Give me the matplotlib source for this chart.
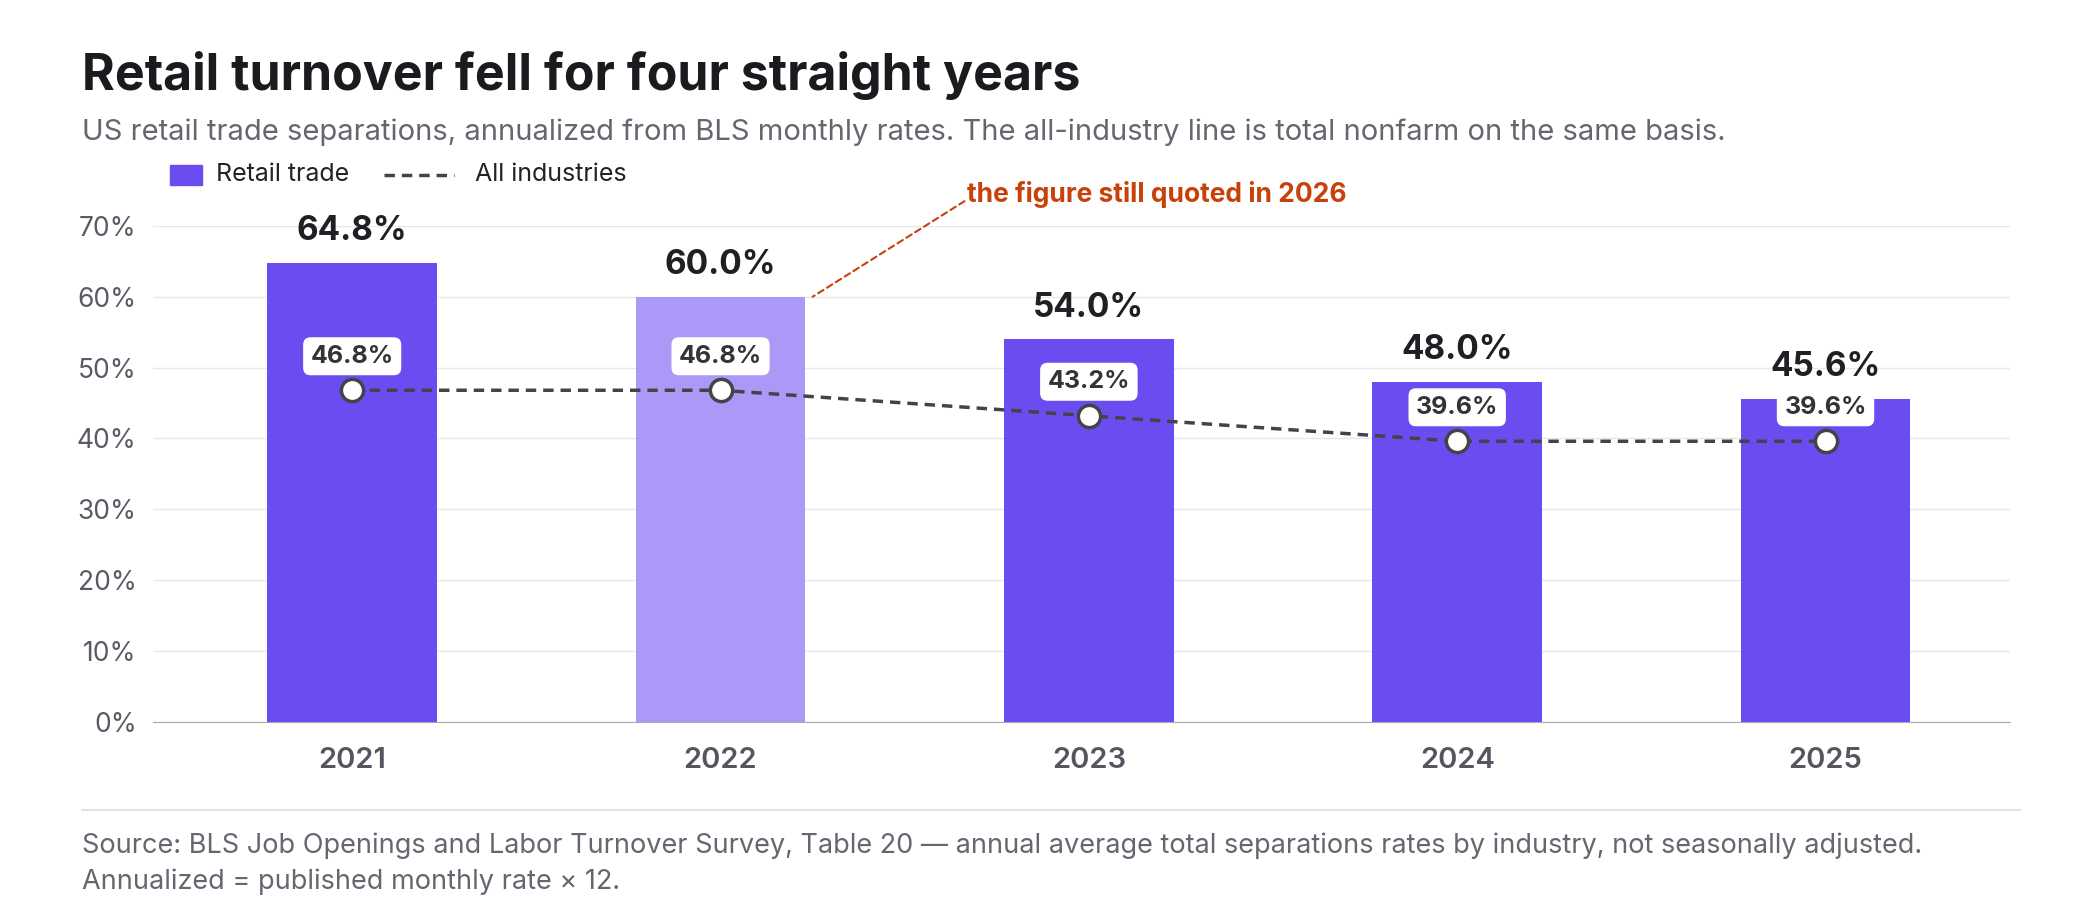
import matplotlib.pyplot as plt

years = ["2021", "2022", "2023", "2024", "2025"]
retail = [64.8, 60.0, 54.0, 48.0, 45.6]
all_ind = [46.8, 46.8, 43.2, 39.6, 39.6]
highlight_year = "2022"

plt.rcParams["font.family"] = ["Inter", "DejaVu Sans"]

fig = plt.figure(figsize=(21, 9), dpi=100)
ax = fig.add_axes([0.073, 0.198, 0.884, 0.551])

x = list(range(len(years)))
colors = ["#ac98f6" if y == highlight_year else "#6b4cf0" for y in years]
ax.bar(x, retail, width=0.46, color=colors, zorder=2)
ax.plot(x, all_ind, color="#444448", lw=2.5, ls=(0, (3, 2)), zorder=3,
        marker="o", ms=16, mfc="white", mec="#444448", mew=2.5)

for xi, r, a in zip(x, retail, all_ind):
    ax.text(xi, r + 2.2, f"{r:.1f}%", ha="center", va="bottom",
            fontsize=24, fontweight="bold", color="#1f1f24")
    ax.text(xi, a + 4.8, f"{a:.1f}%", ha="center", va="center",
            fontsize=18, fontweight="bold", color="#333338", zorder=4,
            bbox=dict(boxstyle="round,pad=0.3", fc="white", ec="none"))

ax.set_xlim(-0.54, 4.5)
ax.set_ylim(0, 70)
ax.set_yticks(range(0, 71, 10))
ax.set_yticklabels([f"{v}%" for v in range(0, 71, 10)])
ax.set_xticks(x)
ax.set_xticklabels(years, fontweight="semibold")
ax.tick_params(axis="y", length=0, labelsize=19, labelcolor="#5a5a66", pad=12)
ax.tick_params(axis="x", length=0, labelsize=21, labelcolor="#555560", pad=18)
ax.grid(axis="y", color="#e8e8ec", lw=1, zorder=0)
for s in ["top", "right", "left"]:
    ax.spines[s].set_visible(False)
ax.spines["bottom"].set_color("#aaaab0")

# annotation on the highlighted bar
hi = years.index(highlight_year)
ax.annotate("the figure still quoted in 2026", xy=(hi + 0.25, retail[hi]),
            xytext=(hi + 0.67, 74.5), fontsize=19, fontweight="bold",
            color="#c8400a", ha="left", va="center", annotation_clip=False,
            arrowprops=dict(arrowstyle="-", color="#c8400a", lw=1.5, ls=(0, (3, 2)),
                            shrinkA=0, shrinkB=0, relpos=(0, 0.3)))

fig.text(0.039, 0.9, "Retail turnover fell for four straight years",
         fontsize=36, fontweight="bold", color="#1a1a1f")
fig.text(0.039, 0.845, "US retail trade separations, annualized from BLS monthly rates. "
         "The all-industry line is total nonfarm on the same basis.",
         fontsize=21, color="#666670")

# legend
fig.patches.append(plt.Rectangle((0.081, 0.795), 0.015, 0.022, color="#6b4cf0",
                                 transform=fig.transFigure))
fig.text(0.103, 0.806, "Retail trade", fontsize=18, color="#222228", va="center")
fig.lines.append(plt.Line2D([0.183, 0.216], [0.806, 0.806], color="#444448", lw=2.5,
                            ls=(0, (3, 2)), transform=fig.transFigure))
fig.text(0.226, 0.806, "All industries", fontsize=18, color="#222228", va="center")

fig.lines.append(plt.Line2D([0.039, 0.962], [0.1, 0.1], color="#dddde2", lw=1.2,
                            transform=fig.transFigure))
fig.text(0.039, 0.052, "Source: BLS Job Openings and Labor Turnover Survey, Table 20 \u2014 "
         "annual average total separations rates by industry, not seasonally adjusted.",
         fontsize=19.5, color="#666670")
fig.text(0.039, 0.012, "Annualized = published monthly rate \u00d7 12.",
         fontsize=19.5, color="#666670")

fig.savefig("out.png", dpi=100, facecolor="white")
